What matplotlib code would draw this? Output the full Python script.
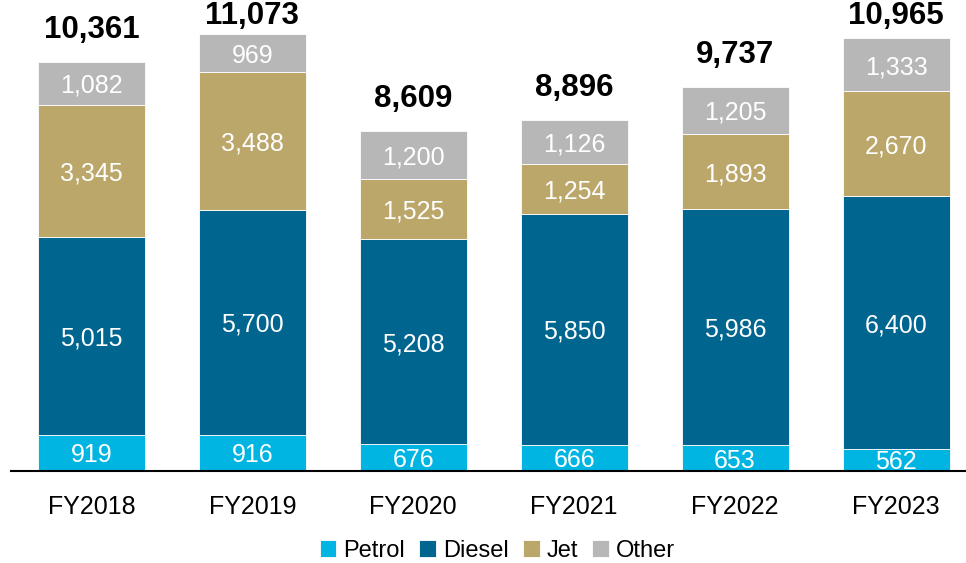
import matplotlib
matplotlib.use("Agg")
import matplotlib.pyplot as plt
import numpy as np

plt.rcParams['font.family'] = ['Liberation Sans', 'DejaVu Sans']

years = ["FY2018", "FY2019", "FY2020", "FY2021", "FY2022", "FY2023"]
petrol = [919, 916, 676, 666, 653, 562]
diesel = [5015, 5700, 5208, 5850, 5986, 6400]
jet = [3345, 3488, 1525, 1254, 1893, 2670]
other = [1082, 969, 1200, 1126, 1205, 1333]
totals = [10361, 11073, 8609, 8896, 9737, 10965]

series_names = ["Petrol", "Diesel", "Jet", "Other"]
series_vals = [petrol, diesel, jet, other]
colors = ["#00B5E2", "#00658F", "#BCA76A", "#B7B7B7"]

fig = plt.figure(figsize=(9.66, 5.63), dpi=100)
ax = fig.add_axes([0.0114, 0.1634, 0.9886, 0.8343])

x = np.arange(len(years))
bottom = np.zeros(len(years))
handles = []
for name, vals, col in zip(series_names, series_vals, colors):
    vals = np.array(vals, dtype=float)
    bars = ax.bar(x, vals, bottom=bottom, width=0.665, color=col,
                  edgecolor="white", linewidth=0.6, label=name)
    handles.append(bars)
    for xi, b, v in zip(x, bottom, vals):
        ax.text(xi, b + v / 2, f"{int(v):,}", ha="center", va="center_baseline",
                color="white", fontsize=18)
    bottom += vals

for xi, t, top in zip(x, totals, bottom):
    ypos = min(top + 430, 11150)
    ax.text(xi, ypos, f"{t:,}", ha="center", va="bottom",
            fontsize=22.5, fontweight="bold", color="black")

ax.set_xlim(-0.5, 5.435)
ax.set_ylim(0, 11900)
ax.set_yticks([])
ax.set_xticks(x)
ax.set_xticklabels(years, fontsize=18)
ax.tick_params(axis="x", length=0, pad=17)
for s in ["top", "right", "left"]:
    ax.spines[s].set_visible(False)
ax.spines["bottom"].set_linewidth(1.5)
ax.spines["bottom"].set_color("black")

leg = fig.legend(handles=handles, labels=series_names, loc="center",
                 bbox_to_anchor=(0.515, 0.022), ncol=4, frameon=False,
                 fontsize=17, handlelength=0.7, handleheight=0.7,
                 handletextpad=0.3, columnspacing=0.6, borderpad=0)

fig.savefig("out.png", dpi=100)
